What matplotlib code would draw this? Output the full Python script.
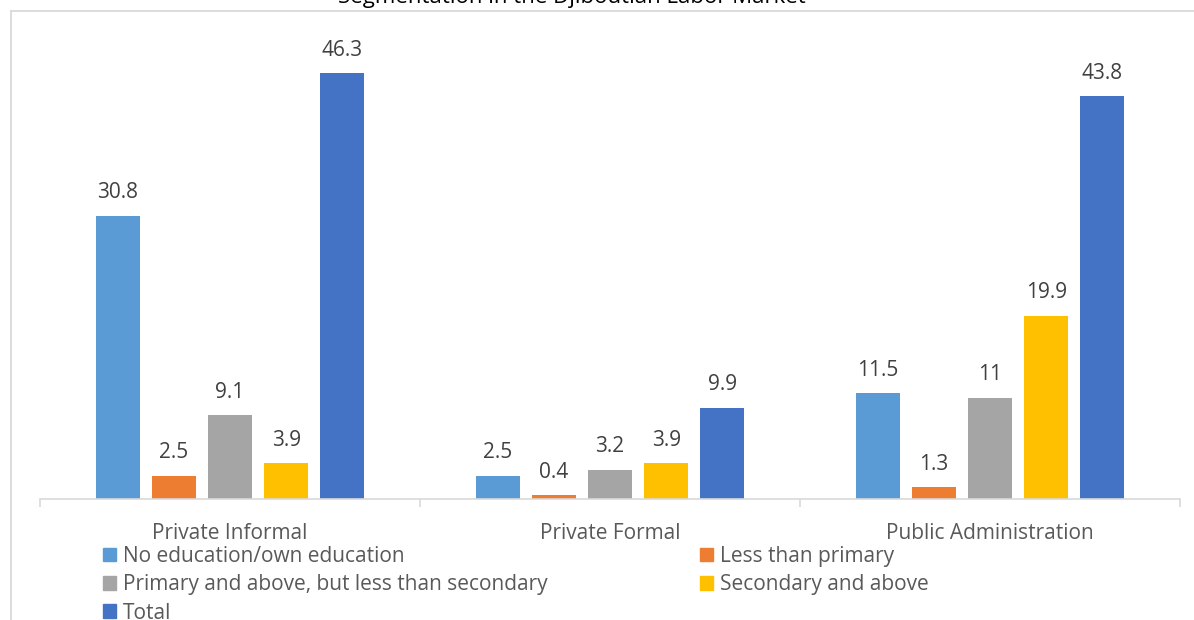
import matplotlib
matplotlib.use("Agg")
import matplotlib.pyplot as plt
from matplotlib.patches import Patch
from matplotlib.lines import Line2D
import numpy as np

plt.rcParams['font.family'] = ['Open Sans', 'DejaVu Sans']

categories = ["Private Informal", "Private Formal", "Public Administration"]
series_names = ["No education/own education", "Less than primary",
                "Primary and above, but less than secondary", "Secondary and above", "Total"]
no_education = [30.8, 2.5, 11.5]
less_than_primary = [2.5, 0.4, 1.3]
primary_above = [9.1, 3.2, 11]
secondary_above = [3.9, 3.9, 19.9]
total = [46.3, 9.9, 43.8]
label_text = [["30.8", "2.5", "11.5"], ["2.5", "0.4", "1.3"], ["9.1", "3.2", "11"],
              ["3.9", "3.9", "19.9"], ["46.3", "9.9", "43.8"]]
title = "Segmentation in the Djiboutian Labor Market"

series = [no_education, less_than_primary, primary_above, secondary_above, total]
colors = ["#5B9BD5", "#ED7D31", "#A5A5A5", "#FFC000", "#4472C4"]

W, H = 1194, 620
fig = plt.figure(figsize=(W / 100, H / 100), dpi=100)
ax = fig.add_axes([40 / W, (H - 499) / H, 1140 / W, 460 / H])

x = np.arange(len(categories))
step = 0.148
width = 0.1158
for i, (vals, col) in enumerate(zip(series, colors)):
    pos = x + (i - 2) * step
    bars = ax.bar(pos, vals, width=width, color=col, zorder=2)
    for b, v, t in zip(bars, vals, label_text[i]):
        ax.annotate(t, (b.get_x() + b.get_width() / 2, v), xytext=(0, 9),
                    textcoords="offset points", ha="center", va="bottom",
                    fontsize=15, color="#404040")

ax.set_xlim(-0.5, 2.5)
ax.set_ylim(0, 50)
ax.set_yticks([])
for s in ["top", "right", "left"]:
    ax.spines[s].set_visible(False)
ax.spines["bottom"].set_color("#D9D9D9")
ax.spines["bottom"].set_linewidth(1.2)
ax.set_xticks(x)
ax.set_xticklabels(categories, fontsize=15, color="#595959")
ax.tick_params(axis="x", which="major", length=0, pad=17)
ax.set_xticks([-0.5, 0.5, 1.5, 2.5], minor=True)
ax.tick_params(axis="x", which="minor", length=6, color="#D9D9D9", width=1.2)

# legend (row-wise order like Excel)
handles = [Patch(color=c) for c in colors]
order = [0, 2, 4, 1, 3]
fig.legend([handles[i] for i in order], [series_names[i] for i in order],
           ncol=2, loc="upper left", bbox_to_anchor=(103 / W, 1 - 546 / H),
           frameon=False, fontsize=15, labelcolor="#595959",
           handlelength=0.63, handleheight=0.63, handletextpad=0.33,
           labelspacing=0.35, columnspacing=7.3, borderpad=0, borderaxespad=0)

# title (cut off at top)
fig.text(572 / W, 1 - 3 / H, title, ha="center", va="baseline", fontsize=16, color="#000000")

# chart border lines
fig.add_artist(Line2D([11 / W, 1], [1 - 11 / H, 1 - 11 / H], transform=fig.transFigure,
                      color="#D9D9D9", lw=1.3))
fig.add_artist(Line2D([11 / W, 11 / W], [1 - 11 / H, 0], transform=fig.transFigure,
                      color="#D9D9D9", lw=1.3))

fig.savefig("out.png", dpi=100)
